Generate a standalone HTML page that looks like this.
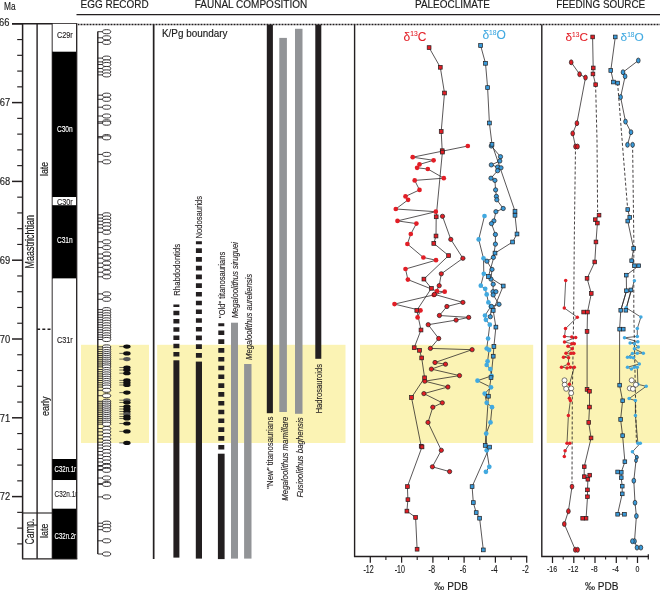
<!DOCTYPE html>
<html><head><meta charset="utf-8"><title>Figure</title>
<style>html,body{margin:0;padding:0;background:#fff;}body{width:660px;height:590px;overflow:hidden;font-family:"Liberation Sans",sans-serif;}svg{display:block;will-change:transform;}</style>
</head><body>
<svg width="660" height="590" viewBox="0 0 660 590" font-family="Liberation Sans, sans-serif"><rect x="81" y="344.8" width="68" height="98.19999999999999" fill="#fbf3b4"/>
<rect x="157.2" y="344.8" width="188.3" height="98.19999999999999" fill="#fbf3b4"/>
<rect x="360" y="344.8" width="173.20000000000005" height="98.19999999999999" fill="#fbf3b4"/>
<rect x="546.7" y="344.8" width="113.29999999999995" height="98.19999999999999" fill="#fbf3b4"/>
<line x1="76.5" y1="14.7" x2="660" y2="14.7" stroke="#231f20" stroke-width="1.25"/>
<line x1="78" y1="24.6" x2="660" y2="24.6" stroke="#231f20" stroke-width="1.5" stroke-dasharray="1 0.5"/>
<text x="114.6" y="7.5" font-size="10.3" text-anchor="middle" fill="#1a1a1a" textLength="68" lengthAdjust="spacingAndGlyphs" stroke="#1a1a1a" stroke-width="0.15" >EGG RECORD</text>
<text x="251" y="7.5" font-size="10.3" text-anchor="middle" fill="#1a1a1a" textLength="112.5" lengthAdjust="spacingAndGlyphs" stroke="#1a1a1a" stroke-width="0.15" >FAUNAL COMPOSITION</text>
<text x="452.5" y="7.5" font-size="10.3" text-anchor="middle" fill="#1a1a1a" textLength="75" lengthAdjust="spacingAndGlyphs" stroke="#1a1a1a" stroke-width="0.15" >PALEOCLIMATE</text>
<text x="600.7" y="7.5" font-size="10.3" text-anchor="middle" fill="#1a1a1a" textLength="89" lengthAdjust="spacingAndGlyphs" stroke="#1a1a1a" stroke-width="0.15" >FEEDING SOURCE</text>
<line x1="22.6" y1="23.8" x2="22.6" y2="558.8" stroke="#231f20" stroke-width="1.5"/>
<text x="4.0" y="10.4" font-size="10.4" text-anchor="start" fill="#1a1a1a" textLength="11.6" lengthAdjust="spacingAndGlyphs" stroke="#1a1a1a" stroke-width="0.15" >Ma</text>
<line x1="12" y1="23.8" x2="22.6" y2="23.8" stroke="#231f20" stroke-width="1.5"/>
<text x="9.4" y="26.2" font-size="10.4" text-anchor="end" fill="#1a1a1a" textLength="10.4" lengthAdjust="spacingAndGlyphs" stroke="#1a1a1a" stroke-width="0.15" >66</text>
<line x1="12" y1="102.6" x2="22.6" y2="102.6" stroke="#231f20" stroke-width="1.5"/>
<text x="10.2" y="106.3" font-size="10.4" text-anchor="end" fill="#1a1a1a" textLength="10.4" lengthAdjust="spacingAndGlyphs" stroke="#1a1a1a" stroke-width="0.15" >67</text>
<line x1="12" y1="181.4" x2="22.6" y2="181.4" stroke="#231f20" stroke-width="1.5"/>
<text x="10.2" y="185.1" font-size="10.4" text-anchor="end" fill="#1a1a1a" textLength="10.4" lengthAdjust="spacingAndGlyphs" stroke="#1a1a1a" stroke-width="0.15" >68</text>
<line x1="12" y1="260.2" x2="22.6" y2="260.2" stroke="#231f20" stroke-width="1.5"/>
<text x="10.2" y="263.9" font-size="10.4" text-anchor="end" fill="#1a1a1a" textLength="10.4" lengthAdjust="spacingAndGlyphs" stroke="#1a1a1a" stroke-width="0.15" >69</text>
<line x1="12" y1="339.0" x2="22.6" y2="339.0" stroke="#231f20" stroke-width="1.5"/>
<text x="10.2" y="342.7" font-size="10.4" text-anchor="end" fill="#1a1a1a" textLength="10.4" lengthAdjust="spacingAndGlyphs" stroke="#1a1a1a" stroke-width="0.15" >70</text>
<line x1="12" y1="417.8" x2="22.6" y2="417.8" stroke="#231f20" stroke-width="1.5"/>
<text x="10.2" y="421.5" font-size="10.4" text-anchor="end" fill="#1a1a1a" textLength="10.4" lengthAdjust="spacingAndGlyphs" stroke="#1a1a1a" stroke-width="0.15" >71</text>
<line x1="12" y1="496.59999999999997" x2="22.6" y2="496.59999999999997" stroke="#231f20" stroke-width="1.5"/>
<text x="10.2" y="500.29999999999995" font-size="10.4" text-anchor="end" fill="#1a1a1a" textLength="10.4" lengthAdjust="spacingAndGlyphs" stroke="#1a1a1a" stroke-width="0.15" >72</text>
<line x1="17.2" y1="39.56" x2="22.6" y2="39.56" stroke="#231f20" stroke-width="1.15"/>
<line x1="17.2" y1="55.32" x2="22.6" y2="55.32" stroke="#231f20" stroke-width="1.15"/>
<line x1="17.2" y1="71.08" x2="22.6" y2="71.08" stroke="#231f20" stroke-width="1.15"/>
<line x1="17.2" y1="86.84" x2="22.6" y2="86.84" stroke="#231f20" stroke-width="1.15"/>
<line x1="17.2" y1="118.36" x2="22.6" y2="118.36" stroke="#231f20" stroke-width="1.15"/>
<line x1="17.2" y1="134.12" x2="22.6" y2="134.12" stroke="#231f20" stroke-width="1.15"/>
<line x1="17.2" y1="149.88" x2="22.6" y2="149.88" stroke="#231f20" stroke-width="1.15"/>
<line x1="17.2" y1="165.64" x2="22.6" y2="165.64" stroke="#231f20" stroke-width="1.15"/>
<line x1="17.2" y1="197.16" x2="22.6" y2="197.16" stroke="#231f20" stroke-width="1.15"/>
<line x1="17.2" y1="212.92" x2="22.6" y2="212.92" stroke="#231f20" stroke-width="1.15"/>
<line x1="17.2" y1="228.68" x2="22.6" y2="228.68" stroke="#231f20" stroke-width="1.15"/>
<line x1="17.2" y1="244.44" x2="22.6" y2="244.44" stroke="#231f20" stroke-width="1.15"/>
<line x1="17.2" y1="275.96" x2="22.6" y2="275.96" stroke="#231f20" stroke-width="1.15"/>
<line x1="17.2" y1="291.72" x2="22.6" y2="291.72" stroke="#231f20" stroke-width="1.15"/>
<line x1="17.2" y1="307.48" x2="22.6" y2="307.48" stroke="#231f20" stroke-width="1.15"/>
<line x1="17.2" y1="323.24" x2="22.6" y2="323.24" stroke="#231f20" stroke-width="1.15"/>
<line x1="17.2" y1="354.76" x2="22.6" y2="354.76" stroke="#231f20" stroke-width="1.15"/>
<line x1="17.2" y1="370.52" x2="22.6" y2="370.52" stroke="#231f20" stroke-width="1.15"/>
<line x1="17.2" y1="386.28" x2="22.6" y2="386.28" stroke="#231f20" stroke-width="1.15"/>
<line x1="17.2" y1="402.04" x2="22.6" y2="402.04" stroke="#231f20" stroke-width="1.15"/>
<line x1="17.2" y1="433.56" x2="22.6" y2="433.56" stroke="#231f20" stroke-width="1.15"/>
<line x1="17.2" y1="449.32" x2="22.6" y2="449.32" stroke="#231f20" stroke-width="1.15"/>
<line x1="17.2" y1="465.08" x2="22.6" y2="465.08" stroke="#231f20" stroke-width="1.15"/>
<line x1="17.2" y1="480.84" x2="22.6" y2="480.84" stroke="#231f20" stroke-width="1.15"/>
<line x1="17.2" y1="512.36" x2="22.6" y2="512.36" stroke="#231f20" stroke-width="1.15"/>
<line x1="17.2" y1="528.12" x2="22.6" y2="528.12" stroke="#231f20" stroke-width="1.15"/>
<line x1="17.2" y1="543.88" x2="22.6" y2="543.88" stroke="#231f20" stroke-width="1.15"/>
<line x1="37.1" y1="23.8" x2="37.1" y2="558.8" stroke="#231f20" stroke-width="1.4"/>
<line x1="52.4" y1="23.8" x2="52.4" y2="558.8" stroke="#231f20" stroke-width="1.4"/>
<line x1="12" y1="23.8" x2="77.3" y2="23.8" stroke="#231f20" stroke-width="1.4"/>
<line x1="22" y1="558.8" x2="77.3" y2="558.8" stroke="#231f20" stroke-width="1.3"/>
<line x1="22.6" y1="513" x2="52.4" y2="513" stroke="#231f20" stroke-width="1.1"/>
<line x1="37.1" y1="329.3" x2="52.4" y2="329.3" stroke="#231f20" stroke-width="1.4" stroke-dasharray="3 2.2"/>
<clipPath id="cc"><rect x="52.4" y="20" width="24.9" height="545"/></clipPath>
<g clip-path="url(#cc)">
<rect x="52.4" y="23.8" width="24.3" height="27.9" fill="#fff"/>
<rect x="52.4" y="51.7" width="24.3" height="145.4" fill="#000"/>
<rect x="52.4" y="197.1" width="24.3" height="8.1" fill="#fff"/>
<rect x="52.4" y="205.2" width="24.3" height="73.4" fill="#000"/>
<rect x="52.4" y="278.6" width="24.3" height="180.4" fill="#fff"/>
<rect x="52.4" y="459.0" width="24.3" height="21.1" fill="#000"/>
<rect x="52.4" y="480.1" width="24.3" height="28.6" fill="#fff"/>
<rect x="52.4" y="508.7" width="24.3" height="50.1" fill="#000"/>
<text x="64.8" y="38.4" font-size="9" text-anchor="middle" fill="#231f20" textLength="15.8" lengthAdjust="spacingAndGlyphs" stroke="#231f20" stroke-width="0.15" >C29r</text>
<text x="64.8" y="131.6" font-size="9" text-anchor="middle" fill="#fff" textLength="15.8" lengthAdjust="spacingAndGlyphs" stroke="#fff" stroke-width="0.15" >C30n</text>
<text x="64.8" y="204.5" font-size="9" text-anchor="middle" fill="#231f20" textLength="15.8" lengthAdjust="spacingAndGlyphs" stroke="#231f20" stroke-width="0.15" >C30r</text>
<text x="64.8" y="242.7" font-size="9" text-anchor="middle" fill="#fff" textLength="15.8" lengthAdjust="spacingAndGlyphs" stroke="#fff" stroke-width="0.15" >C31n</text>
<text x="64.8" y="342.5" font-size="9" text-anchor="middle" fill="#231f20" textLength="15.8" lengthAdjust="spacingAndGlyphs" stroke="#231f20" stroke-width="0.15" >C31r</text>
<text x="54.6" y="471.8" font-size="8.6" text-anchor="start" fill="#fff" textLength="22.8" lengthAdjust="spacingAndGlyphs" stroke="#fff" stroke-width="0.15" >C32n.1n</text>
<text x="54.6" y="497.3" font-size="8.6" text-anchor="start" fill="#231f20" textLength="22.8" lengthAdjust="spacingAndGlyphs" stroke="#231f20" stroke-width="0.15" >C32n.1r</text>
<text x="54.6" y="538.6" font-size="8.6" text-anchor="start" fill="#fff" textLength="22.8" lengthAdjust="spacingAndGlyphs" stroke="#fff" stroke-width="0.15" >C32n.2n</text>
</g>
<line x1="76.7" y1="23.8" x2="76.7" y2="558.8" stroke="#231f20" stroke-width="1.3"/>
<text x="33.6" y="241.7" font-size="12.4" text-anchor="middle" fill="#1a1a1a" textLength="53.5" lengthAdjust="spacingAndGlyphs" transform="rotate(-90 33.6 241.7)" stroke="#1a1a1a" stroke-width="0.15" >Maastrichtian</text>
<text x="47.9" y="169" font-size="10.8" text-anchor="middle" fill="#1a1a1a" textLength="14" lengthAdjust="spacingAndGlyphs" transform="rotate(-90 47.9 169)" stroke="#1a1a1a" stroke-width="0.15" >late</text>
<text x="48.6" y="406.3" font-size="10.8" text-anchor="middle" fill="#1a1a1a" textLength="19.6" lengthAdjust="spacingAndGlyphs" transform="rotate(-90 48.6 406.3)" stroke="#1a1a1a" stroke-width="0.15" >early</text>
<text x="33.7" y="531.6" font-size="12.4" text-anchor="middle" fill="#1a1a1a" textLength="25.8" lengthAdjust="spacingAndGlyphs" transform="rotate(-90 33.7 531.6)" stroke="#1a1a1a" stroke-width="0.15" >Camp.</text>
<text x="47.9" y="530.8" font-size="10.8" text-anchor="middle" fill="#1a1a1a" textLength="14.3" lengthAdjust="spacingAndGlyphs" transform="rotate(-90 47.9 530.8)" stroke="#1a1a1a" stroke-width="0.15" >late</text>
<line x1="153.6" y1="24.6" x2="153.6" y2="559" stroke="#231f20" stroke-width="1.4"/>
<line x1="97.8" y1="31.4" x2="97.8" y2="554" stroke="#231f20" stroke-width="1.4"/>
<g stroke="#231f20" stroke-width="0.9" fill="none"><path d="M97.8 31.7H102.6"/><ellipse cx="106.6" cy="31.7" rx="4.15" ry="2.05" fill="#fff"/><path d="M97.8 37.8H102.6"/><ellipse cx="106.6" cy="37.8" rx="4.15" ry="2.05" fill="#fff"/><path d="M97.8 42.4H102.6"/><ellipse cx="106.6" cy="42.4" rx="4.15" ry="2.05" fill="#fff"/><path d="M97.8 58.1H102.6"/><ellipse cx="106.6" cy="58.1" rx="4.15" ry="2.05" fill="#fff"/><path d="M97.8 61.9H102.6"/><ellipse cx="106.6" cy="61.9" rx="4.15" ry="2.05" fill="#fff"/><path d="M97.8 64.5H102.6"/><ellipse cx="106.6" cy="64.5" rx="4.15" ry="2.05" fill="#fff"/><path d="M97.8 68.5H102.6"/><ellipse cx="106.6" cy="68.5" rx="4.15" ry="2.05" fill="#fff"/><path d="M97.8 71.9H102.6"/><ellipse cx="106.6" cy="71.9" rx="4.15" ry="2.05" fill="#fff"/><path d="M97.8 74.9H102.6"/><ellipse cx="106.6" cy="74.9" rx="4.15" ry="2.05" fill="#fff"/><path d="M97.8 95.2H102.6"/><ellipse cx="106.6" cy="95.2" rx="4.15" ry="2.05" fill="#fff"/><path d="M97.8 99.3H102.6"/><ellipse cx="106.6" cy="99.3" rx="4.15" ry="2.05" fill="#fff"/><path d="M97.8 107.2H102.6"/><ellipse cx="106.6" cy="107.2" rx="4.15" ry="2.05" fill="#fff"/><path d="M97.8 116H102.6"/><ellipse cx="106.6" cy="116" rx="4.15" ry="2.05" fill="#fff"/><path d="M97.8 121.8H102.6"/><ellipse cx="106.6" cy="121.8" rx="4.15" ry="2.05" fill="#fff"/><path d="M97.8 123.2H102.6"/><ellipse cx="106.6" cy="123.2" rx="4.15" ry="2.05" fill="#fff"/><path d="M97.8 136.6H102.6"/><ellipse cx="106.6" cy="136.6" rx="4.15" ry="2.05" fill="#fff"/><path d="M97.8 137.8H102.6"/><ellipse cx="106.6" cy="137.8" rx="4.15" ry="2.05" fill="#fff"/><path d="M97.8 154.4H102.6"/><ellipse cx="106.6" cy="154.4" rx="4.15" ry="2.05" fill="#fff"/><path d="M97.8 161.8H102.6"/><ellipse cx="106.6" cy="161.8" rx="4.15" ry="2.05" fill="#fff"/><path d="M97.8 214.8H102.6"/><ellipse cx="106.6" cy="214.8" rx="4.15" ry="2.05" fill="#fff"/><path d="M97.8 218.1H102.6"/><ellipse cx="106.6" cy="218.1" rx="4.15" ry="2.05" fill="#fff"/><path d="M97.8 221.2H102.6"/><ellipse cx="106.6" cy="221.2" rx="4.15" ry="2.05" fill="#fff"/><path d="M97.8 224.7H102.6"/><ellipse cx="106.6" cy="224.7" rx="4.15" ry="2.05" fill="#fff"/><path d="M97.8 228H102.6"/><ellipse cx="106.6" cy="228" rx="4.15" ry="2.05" fill="#fff"/><path d="M97.8 232.3H102.6"/><ellipse cx="106.6" cy="232.3" rx="4.15" ry="2.05" fill="#fff"/><path d="M97.8 241.8H102.6"/><ellipse cx="106.6" cy="241.8" rx="4.15" ry="2.05" fill="#fff"/><path d="M97.8 247.6H102.6"/><ellipse cx="106.6" cy="247.6" rx="4.15" ry="2.05" fill="#fff"/><path d="M97.8 254H102.6"/><ellipse cx="106.6" cy="254" rx="4.15" ry="2.05" fill="#fff"/><path d="M97.8 258.2H102.6"/><ellipse cx="106.6" cy="258.2" rx="4.15" ry="2.05" fill="#fff"/><path d="M97.8 263.1H102.6"/><ellipse cx="106.6" cy="263.1" rx="4.15" ry="2.05" fill="#fff"/><path d="M97.8 267.4H102.6"/><ellipse cx="106.6" cy="267.4" rx="4.15" ry="2.05" fill="#fff"/><path d="M97.8 272.2H102.6"/><ellipse cx="106.6" cy="272.2" rx="4.15" ry="2.05" fill="#fff"/><path d="M97.8 276.8H102.6"/><ellipse cx="106.6" cy="276.8" rx="4.15" ry="2.05" fill="#fff"/><path d="M97.8 293.9H102.6"/><ellipse cx="106.6" cy="293.9" rx="4.15" ry="2.05" fill="#fff"/><path d="M97.8 299.3H102.6"/><ellipse cx="106.6" cy="299.3" rx="4.15" ry="2.05" fill="#fff"/><path d="M97.8 309.6H102.6"/><ellipse cx="106.6" cy="309.6" rx="4.15" ry="2.05" fill="#fff"/><path d="M97.8 312.3H102.6"/><ellipse cx="106.6" cy="312.3" rx="4.15" ry="2.05" fill="#fff"/><path d="M97.8 314.8H102.6"/><ellipse cx="106.6" cy="314.8" rx="4.15" ry="2.05" fill="#fff"/><path d="M97.8 317.3H102.6"/><ellipse cx="106.6" cy="317.3" rx="4.15" ry="2.05" fill="#fff"/><path d="M97.8 319.8H102.6"/><ellipse cx="106.6" cy="319.8" rx="4.15" ry="2.05" fill="#fff"/><path d="M97.8 322.3H102.6"/><ellipse cx="106.6" cy="322.3" rx="4.15" ry="2.05" fill="#fff"/><path d="M97.8 324.8H102.6"/><ellipse cx="106.6" cy="324.8" rx="4.15" ry="2.05" fill="#fff"/><path d="M97.8 327.3H102.6"/><ellipse cx="106.6" cy="327.3" rx="4.15" ry="2.05" fill="#fff"/><path d="M97.8 329.8H102.6"/><ellipse cx="106.6" cy="329.8" rx="4.15" ry="2.05" fill="#fff"/><path d="M97.8 332.3H102.6"/><ellipse cx="106.6" cy="332.3" rx="4.15" ry="2.05" fill="#fff"/><path d="M97.8 334.8H102.6"/><ellipse cx="106.6" cy="334.8" rx="4.15" ry="2.05" fill="#fff"/><path d="M97.8 337.2H102.6"/><ellipse cx="106.6" cy="337.2" rx="4.15" ry="2.05" fill="#fff"/><path d="M97.8 339.5H102.6"/><ellipse cx="106.6" cy="339.5" rx="4.15" ry="2.05" fill="#fff"/><path d="M97.8 346.9H102.6"/><ellipse cx="106.6" cy="346.9" rx="4.15" ry="2.05" fill="#fff"/><path d="M97.8 349.3H102.6"/><ellipse cx="106.6" cy="349.3" rx="4.15" ry="2.05" fill="#fff"/><path d="M97.8 351.6H102.6"/><ellipse cx="106.6" cy="351.6" rx="4.15" ry="2.05" fill="#fff"/><path d="M97.8 353.6H102.6"/><ellipse cx="106.6" cy="353.6" rx="4.15" ry="2.05" fill="#fff"/><path d="M97.8 355.5H102.6"/><ellipse cx="106.6" cy="355.5" rx="4.15" ry="2.05" fill="#fff"/><path d="M97.8 357.4H102.6"/><ellipse cx="106.6" cy="357.4" rx="4.15" ry="2.05" fill="#fff"/><path d="M97.8 359.3H102.6"/><ellipse cx="106.6" cy="359.3" rx="4.15" ry="2.05" fill="#fff"/><path d="M97.8 361.2H102.6"/><ellipse cx="106.6" cy="361.2" rx="4.15" ry="2.05" fill="#fff"/><path d="M97.8 363.1H102.6"/><ellipse cx="106.6" cy="363.1" rx="4.15" ry="2.05" fill="#fff"/><path d="M97.8 365H102.6"/><ellipse cx="106.6" cy="365" rx="4.15" ry="2.05" fill="#fff"/><path d="M97.8 366.9H102.6"/><ellipse cx="106.6" cy="366.9" rx="4.15" ry="2.05" fill="#fff"/><path d="M97.8 369.5H102.6"/><ellipse cx="106.6" cy="369.5" rx="4.15" ry="2.05" fill="#fff"/><path d="M97.8 371.7H102.6"/><ellipse cx="106.6" cy="371.7" rx="4.15" ry="2.05" fill="#fff"/><path d="M97.8 373.9H102.6"/><ellipse cx="106.6" cy="373.9" rx="4.15" ry="2.05" fill="#fff"/><path d="M97.8 376.1H102.6"/><ellipse cx="106.6" cy="376.1" rx="4.15" ry="2.05" fill="#fff"/><path d="M97.8 378.3H102.6"/><ellipse cx="106.6" cy="378.3" rx="4.15" ry="2.05" fill="#fff"/><path d="M97.8 380.5H102.6"/><ellipse cx="106.6" cy="380.5" rx="4.15" ry="2.05" fill="#fff"/><path d="M97.8 382.7H102.6"/><ellipse cx="106.6" cy="382.7" rx="4.15" ry="2.05" fill="#fff"/><path d="M97.8 384.9H102.6"/><ellipse cx="106.6" cy="384.9" rx="4.15" ry="2.05" fill="#fff"/><path d="M97.8 387.1H102.6"/><ellipse cx="106.6" cy="387.1" rx="4.15" ry="2.05" fill="#fff"/><path d="M97.8 390.3H102.6"/><ellipse cx="106.6" cy="390.3" rx="4.15" ry="2.05" fill="#fff"/><path d="M97.8 395.7H102.6"/><ellipse cx="106.6" cy="395.7" rx="4.15" ry="2.05" fill="#fff"/><path d="M97.8 401.3H102.6"/><ellipse cx="106.6" cy="401.3" rx="4.15" ry="2.05" fill="#fff"/><path d="M97.8 403.2H102.6"/><ellipse cx="106.6" cy="403.2" rx="4.15" ry="2.05" fill="#fff"/><path d="M97.8 405.1H102.6"/><ellipse cx="106.6" cy="405.1" rx="4.15" ry="2.05" fill="#fff"/><path d="M97.8 407H102.6"/><ellipse cx="106.6" cy="407" rx="4.15" ry="2.05" fill="#fff"/><path d="M97.8 408.9H102.6"/><ellipse cx="106.6" cy="408.9" rx="4.15" ry="2.05" fill="#fff"/><path d="M97.8 410.8H102.6"/><ellipse cx="106.6" cy="410.8" rx="4.15" ry="2.05" fill="#fff"/><path d="M97.8 412.7H102.6"/><ellipse cx="106.6" cy="412.7" rx="4.15" ry="2.05" fill="#fff"/><path d="M97.8 414.6H102.6"/><ellipse cx="106.6" cy="414.6" rx="4.15" ry="2.05" fill="#fff"/><path d="M97.8 416.5H102.6"/><ellipse cx="106.6" cy="416.5" rx="4.15" ry="2.05" fill="#fff"/><path d="M97.8 418.4H102.6"/><ellipse cx="106.6" cy="418.4" rx="4.15" ry="2.05" fill="#fff"/><path d="M97.8 420.3H102.6"/><ellipse cx="106.6" cy="420.3" rx="4.15" ry="2.05" fill="#fff"/><path d="M97.8 422.2H102.6"/><ellipse cx="106.6" cy="422.2" rx="4.15" ry="2.05" fill="#fff"/><path d="M97.8 424.2H102.6"/><ellipse cx="106.6" cy="424.2" rx="4.15" ry="2.05" fill="#fff"/><path d="M97.8 428.5H102.6"/><ellipse cx="106.6" cy="428.5" rx="4.15" ry="2.05" fill="#fff"/><path d="M97.8 431.8H102.6"/><ellipse cx="106.6" cy="431.8" rx="4.15" ry="2.05" fill="#fff"/><path d="M97.8 435.2H102.6"/><ellipse cx="106.6" cy="435.2" rx="4.15" ry="2.05" fill="#fff"/><path d="M97.8 438.8H102.6"/><ellipse cx="106.6" cy="438.8" rx="4.15" ry="2.05" fill="#fff"/><path d="M97.8 442.2H102.6"/><ellipse cx="106.6" cy="442.2" rx="4.15" ry="2.05" fill="#fff"/><path d="M97.8 445H102.6"/><ellipse cx="106.6" cy="445" rx="4.15" ry="2.05" fill="#fff"/><path d="M97.8 448H102.6"/><ellipse cx="106.6" cy="448" rx="4.15" ry="2.05" fill="#fff"/><path d="M97.8 451.5H102.6"/><ellipse cx="106.6" cy="451.5" rx="4.15" ry="2.05" fill="#fff"/><path d="M97.8 455H102.6"/><ellipse cx="106.6" cy="455" rx="4.15" ry="2.05" fill="#fff"/><path d="M97.8 458.5H102.6"/><ellipse cx="106.6" cy="458.5" rx="4.15" ry="2.05" fill="#fff"/><path d="M97.8 462H102.6"/><ellipse cx="106.6" cy="462" rx="4.15" ry="2.05" fill="#fff"/><path d="M97.8 465.5H102.6"/><ellipse cx="106.6" cy="465.5" rx="4.15" ry="2.05" fill="#fff"/><path d="M97.8 466.3H102.6"/><ellipse cx="106.6" cy="466.3" rx="4.15" ry="2.05" fill="#fff"/><path d="M97.8 469.5H102.6"/><ellipse cx="106.6" cy="469.5" rx="4.15" ry="2.05" fill="#fff"/><path d="M97.8 470.3H102.6"/><ellipse cx="106.6" cy="470.3" rx="4.15" ry="2.05" fill="#fff"/><path d="M97.8 478H102.6"/><ellipse cx="106.6" cy="478" rx="4.15" ry="2.05" fill="#fff"/><path d="M97.8 483.6H102.6"/><ellipse cx="106.6" cy="483.6" rx="4.15" ry="2.05" fill="#fff"/><path d="M97.8 484.4H102.6"/><ellipse cx="106.6" cy="484.4" rx="4.15" ry="2.05" fill="#fff"/><path d="M97.8 496.9H102.6"/><ellipse cx="106.6" cy="496.9" rx="4.15" ry="2.05" fill="#fff"/><path d="M97.8 523.2H102.6"/><ellipse cx="106.6" cy="523.2" rx="4.15" ry="2.05" fill="#fff"/><path d="M97.8 526.3H102.6"/><ellipse cx="106.6" cy="526.3" rx="4.15" ry="2.05" fill="#fff"/><path d="M97.8 529.7H102.6"/><ellipse cx="106.6" cy="529.7" rx="4.15" ry="2.05" fill="#fff"/><path d="M97.8 540.8H102.6"/><ellipse cx="106.6" cy="540.8" rx="4.15" ry="2.05" fill="#fff"/><path d="M97.8 554H102.6"/><ellipse cx="106.6" cy="554" rx="4.15" ry="2.05" fill="#fff"/></g>
<path d="M119.3 346.6H124" stroke="#111" stroke-width="0.6"/><ellipse cx="126.9" cy="346.6" rx="3.7" ry="2.05" fill="#111"/><path d="M119.3 353.4H124" stroke="#111" stroke-width="0.6"/><ellipse cx="126.9" cy="353.4" rx="3.7" ry="2.05" fill="#111"/><path d="M119.3 359.1H124" stroke="#111" stroke-width="0.6"/><ellipse cx="126.9" cy="359.1" rx="3.7" ry="2.05" fill="#555"/><path d="M119.3 367.5H124" stroke="#111" stroke-width="0.6"/><ellipse cx="126.9" cy="367.5" rx="3.7" ry="2.05" fill="#111"/><path d="M119.3 370H124" stroke="#111" stroke-width="0.6"/><ellipse cx="126.9" cy="370" rx="3.7" ry="2.05" fill="#111"/><path d="M119.3 373.2H124" stroke="#111" stroke-width="0.6"/><ellipse cx="126.9" cy="373.2" rx="3.7" ry="2.05" fill="#111"/><path d="M119.3 380.4H124" stroke="#111" stroke-width="0.6"/><ellipse cx="126.9" cy="380.4" rx="3.7" ry="2.05" fill="#111"/><path d="M119.3 382.7H124" stroke="#111" stroke-width="0.6"/><ellipse cx="126.9" cy="382.7" rx="3.7" ry="2.05" fill="#111"/><path d="M119.3 385H124" stroke="#111" stroke-width="0.6"/><ellipse cx="126.9" cy="385" rx="3.7" ry="2.05" fill="#111"/><path d="M119.3 392.6H124" stroke="#111" stroke-width="0.6"/><ellipse cx="126.9" cy="392.6" rx="3.7" ry="2.05" fill="#111"/><path d="M119.3 400.2H124" stroke="#111" stroke-width="0.6"/><ellipse cx="126.9" cy="400.2" rx="3.7" ry="2.05" fill="#555"/><path d="M119.3 402.5H124" stroke="#111" stroke-width="0.6"/><ellipse cx="126.9" cy="402.5" rx="3.7" ry="2.05" fill="#111"/><path d="M119.3 406.5H124" stroke="#111" stroke-width="0.6"/><ellipse cx="126.9" cy="406.5" rx="3.7" ry="2.05" fill="#111"/><path d="M119.3 409H124" stroke="#111" stroke-width="0.6"/><ellipse cx="126.9" cy="409" rx="3.7" ry="2.05" fill="#111"/><path d="M119.3 411.5H124" stroke="#111" stroke-width="0.6"/><ellipse cx="126.9" cy="411.5" rx="3.7" ry="2.05" fill="#111"/><path d="M119.3 414H124" stroke="#111" stroke-width="0.6"/><ellipse cx="126.9" cy="414" rx="3.7" ry="2.05" fill="#555"/><path d="M119.3 416.5H124" stroke="#111" stroke-width="0.6"/><ellipse cx="126.9" cy="416.5" rx="3.7" ry="2.05" fill="#111"/><path d="M119.3 418.5H124" stroke="#111" stroke-width="0.6"/><ellipse cx="126.9" cy="418.5" rx="3.7" ry="2.05" fill="#111"/><path d="M119.3 423.5H124" stroke="#111" stroke-width="0.6"/><ellipse cx="126.9" cy="423.5" rx="3.7" ry="2.05" fill="#111"/><path d="M119.3 431.4H124" stroke="#111" stroke-width="0.6"/><ellipse cx="126.9" cy="431.4" rx="3.7" ry="2.05" fill="#111"/><path d="M119.3 442.9H124" stroke="#111" stroke-width="0.6"/><ellipse cx="126.9" cy="442.9" rx="3.7" ry="2.05" fill="#111"/>
<line x1="153.6" y1="24.6" x2="153.6" y2="559" stroke="#231f20" stroke-width="1.4"/>
<text x="162" y="36.5" font-size="10.2" text-anchor="start" fill="#1a1a1a" textLength="65.5" lengthAdjust="spacingAndGlyphs" stroke="#1a1a1a" stroke-width="0.15" >K/Pg boundary</text>
<rect x="173.4" y="360.3" width="6.0" height="197.3" fill="#231f20"/>
<line x1="176.4" y1="356.6" x2="176.4" y2="304.5" stroke="#231f20" stroke-width="6.0" stroke-dasharray="4.6 3.66"/>
<rect x="195.8" y="361.6" width="6.2" height="197.0" fill="#231f20"/>
<line x1="198.9" y1="357.8" x2="198.9" y2="241.2" stroke="#231f20" stroke-width="6.0" stroke-dasharray="4.7 4.04"/>
<rect x="217.9" y="453.7" width="6.7" height="105.4" fill="#231f20"/>
<line x1="221.3" y1="449.5" x2="221.3" y2="323.3" stroke="#231f20" stroke-width="6.0" stroke-dasharray="4.6 4.2"/>
<rect x="231" y="322.7" width="7.0" height="235.9" fill="#929497"/>
<rect x="244.1" y="364" width="7.4" height="194.6" fill="#929497"/>
<rect x="266.8" y="24.6" width="6.1" height="388.6" fill="#231f20"/>
<rect x="279.3" y="37.9" width="7.6" height="374.1" fill="#929497"/>
<rect x="295" y="28.8" width="7.5" height="385.0" fill="#929497"/>
<rect x="315.3" y="24.6" width="6.0" height="334.2" fill="#231f20"/>
<text x="0" y="0" font-size="8.7" fill="#231f20" stroke="#231f20" stroke-width="0.12" textLength="51.9" lengthAdjust="spacingAndGlyphs" transform="translate(180.0 295.7) rotate(-90)">Rhabdodontids</text>
<text x="0" y="0" font-size="8.7" fill="#231f20" stroke="#231f20" stroke-width="0.12" textLength="42.5" lengthAdjust="spacingAndGlyphs" transform="translate(202.3 238.4) rotate(-90)">Nodosaurids</text>
<text x="0" y="0" font-size="8.7" fill="#231f20" stroke="#231f20" stroke-width="0.12" textLength="66.1" lengthAdjust="spacingAndGlyphs" transform="translate(224.9 317.90000000000003) rotate(-90)">&quot;Old&quot; titanosaurians</text>
<text x="0" y="0" font-size="8.7" fill="#231f20" stroke="#231f20" stroke-width="0.12" textLength="76.2" lengthAdjust="spacingAndGlyphs" transform="translate(238.1 318.3) rotate(-90)" font-style="italic">Megaloolithus siruguei</text>
<text x="0" y="0" font-size="8.7" fill="#231f20" stroke="#231f20" stroke-width="0.12" textLength="86.1" lengthAdjust="spacingAndGlyphs" transform="translate(251.6 360.0) rotate(-90)" font-style="italic">Megaloolithus aureliensis</text>
<text x="0" y="0" font-size="8.7" fill="#231f20" stroke="#231f20" stroke-width="0.12" textLength="72.0" lengthAdjust="spacingAndGlyphs" transform="translate(273.4 488.7) rotate(-90)">&quot;New&quot; titanosaurians</text>
<text x="0" y="0" font-size="8.7" fill="#231f20" stroke="#231f20" stroke-width="0.12" textLength="84.1" lengthAdjust="spacingAndGlyphs" transform="translate(288.0 500.7) rotate(-90)" font-style="italic">Megaloolithus mamillare</text>
<text x="0" y="0" font-size="8.7" fill="#231f20" stroke="#231f20" stroke-width="0.12" textLength="80.2" lengthAdjust="spacingAndGlyphs" transform="translate(303.2 497.5) rotate(-90)" font-style="italic">Fusioolithus baghensis</text>
<text x="0" y="0" font-size="8.7" fill="#231f20" stroke="#231f20" stroke-width="0.12" textLength="49.7" lengthAdjust="spacingAndGlyphs" transform="translate(321.9 413.6) rotate(-90)">Hadrosauroids</text>
<path d="M354.6 24.6V556.5H527.3" stroke="#231f20" stroke-width="1.4" fill="none"/>
<line x1="370.3" y1="556.5" x2="370.3" y2="562.7" stroke="#231f20" stroke-width="1.25"/>
<line x1="385.9" y1="556.5" x2="385.9" y2="559.9" stroke="#231f20" stroke-width="1.1"/>
<line x1="401.6" y1="556.5" x2="401.6" y2="562.7" stroke="#231f20" stroke-width="1.25"/>
<line x1="417.2" y1="556.5" x2="417.2" y2="559.9" stroke="#231f20" stroke-width="1.1"/>
<line x1="432.9" y1="556.5" x2="432.9" y2="562.7" stroke="#231f20" stroke-width="1.25"/>
<line x1="448.5" y1="556.5" x2="448.5" y2="559.9" stroke="#231f20" stroke-width="1.1"/>
<line x1="464.1" y1="556.5" x2="464.1" y2="562.7" stroke="#231f20" stroke-width="1.25"/>
<line x1="479.8" y1="556.5" x2="479.8" y2="559.9" stroke="#231f20" stroke-width="1.1"/>
<line x1="495.4" y1="556.5" x2="495.4" y2="562.7" stroke="#231f20" stroke-width="1.25"/>
<line x1="511.1" y1="556.5" x2="511.1" y2="559.9" stroke="#231f20" stroke-width="1.1"/>
<line x1="526.7" y1="556.5" x2="526.7" y2="562.7" stroke="#231f20" stroke-width="1.25"/>
<text x="368.5" y="572.5" font-size="10" text-anchor="middle" fill="#1a1a1a" textLength="10.2" lengthAdjust="spacingAndGlyphs" stroke="#1a1a1a" stroke-width="0.15" >-12</text>
<text x="399.8" y="572.5" font-size="10" text-anchor="middle" fill="#1a1a1a" textLength="10.2" lengthAdjust="spacingAndGlyphs" stroke="#1a1a1a" stroke-width="0.15" >-10</text>
<text x="431.8" y="572.5" font-size="10" text-anchor="middle" fill="#1a1a1a" textLength="6.5" lengthAdjust="spacingAndGlyphs" stroke="#1a1a1a" stroke-width="0.15" >-8</text>
<text x="463.0" y="572.5" font-size="10" text-anchor="middle" fill="#1a1a1a" textLength="6.5" lengthAdjust="spacingAndGlyphs" stroke="#1a1a1a" stroke-width="0.15" >-6</text>
<text x="494.3" y="572.5" font-size="10" text-anchor="middle" fill="#1a1a1a" textLength="6.5" lengthAdjust="spacingAndGlyphs" stroke="#1a1a1a" stroke-width="0.15" >-4</text>
<text x="525.6" y="572.5" font-size="10" text-anchor="middle" fill="#1a1a1a" textLength="6.5" lengthAdjust="spacingAndGlyphs" stroke="#1a1a1a" stroke-width="0.15" >-2</text>
<text x="451.1" y="590.2" font-size="11.2" text-anchor="middle" fill="#1a1a1a" textLength="33.6" lengthAdjust="spacingAndGlyphs" stroke="#1a1a1a" stroke-width="0.15" >‰ PDB</text>
<path d="M467.8 146 L412.7 157.2 L433.6 160.3 L419.5 164.4 L417.1 167.8 L427.8 169 L443.8 178.2 L414.7 180.4 L419.5 189.9 L405.5 196.4 L408.1 199.8 L395.8 209 L435.8 211.7 L397.5 220.9 L416.4 223.6 L410.8 234 L407.4 244 L423.4 257.5 L436 260.2 L405.5 269 L407.9 279.6 L437 291.2 L444.7 291.7 L433.8 294.9 L394.5 304.1 L420.5 310.4 L417.6 317.4" stroke="#231f20" stroke-width="0.75" fill="none"/>
<path d="M491.3 146 L500.5 156.7 L499.8 161 L491.3 164.9 L497.6 167.1 L501 167.8 L497.6 170.7 L491 178.2 L494.9 180.4 L495.6 189.9 L496.4 196.4 L496.8 199.8 L503.2 208.5 L495.9 211.7 L493.9 220.9 L491.5 223.6 L495.4 234.5 L495.4 244.1 L493.4 257.4 L486.9 261.2 L492 269.4 L491 279.1 L493.2 284.2 L493 291.7 L495.9 291.7 L493.2 294.9 L499 304.3 L491.5 306.5 L490.3 316.7" stroke="#231f20" stroke-width="0.75" fill="none"/>
<path d="M442.5 216.3 L450.8 239.4 L462.9 258.3 L441.3 273.8 L439.2 285.7 L434.5 294.4 L462.9 302.4 L446.9 306.5 L439.4 315.5 L468.7 317.4 L456.1 320.1 L428.2 324.7 L438.7 338.5 L430.4 348.4 L472.1 349.7 L435 362.5 L445.5 364.2 L431.4 369.1 L459.5 375.6 L424.8 381.2 L447.9 387 L423.9 393.6 L442.3 402.8 L432.8 407.2 L428 422.4 L441.3 450.3 L432.4 466.8 L449.6 471.6" stroke="#231f20" stroke-width="0.75" fill="none"/>
<path d="M484.5 216 L478.7 239.4 L483.5 258.3 L483.8 273.8 L480.8 285.7 L485.2 288.8 L486.7 294.4 L488.4 302.4 L490.8 306.5 L485 315.5 L485.9 319.8 L489.8 324.7 L488.1 338.5 L486.7 348.5 L489.1 349.9 L487.6 361.3 L486.7 365 L490.3 369.1 L491.5 375.9 L477.5 380.7 L491 387.3 L484.7 393.6 L486.7 402.8 L492 407.2 L490.5 422.4 L486.2 433.6 L486.7 450.3 L489.3 466.8 L485.9 471.8" stroke="#231f20" stroke-width="0.75" fill="none"/>
<path d="M429.1 47.6 L440.3 67.3 L444.5 93 L441.2 131.5 L442.2 150.7 L442.4 152.1 L436.2 216.8 L436 236 L433.8 243.4 L448.6 255.6 L423.9 279.1 L431.4 288.3 L416.8 310.4 L421 330 L414.2 347.7 L419.5 350.3 L421.7 357.9 L424.6 377.8 L411.5 397.5 L421.2 446.2 L422 446.9 L407.4 486.6 L407.9 499.7 L406.9 511.1 L415.6 517.4 L417.1 549.2" stroke="#231f20" stroke-width="0.75" fill="none"/>
<path d="M480.6 45.5 L485.5 63.3 L487.6 87.6 L489.4 123 L492 144.3 L515 211.2 L515 215.3 L517 234 L512.6 242 L495 253.1 L488.4 276.5 L503.2 286 L493.2 310.4 L495.9 327.1 L493.9 346.5 L493.2 356.2 L491 377.6 L488.4 396.2 L485.2 445.4 L489.6 447.1 L472.1 486.6 L473.3 502.6 L476.2 512.6 L479.6 518.2 L483.3 549.9" stroke="#231f20" stroke-width="0.75" fill="none"/>
<g fill="#e21e26"><circle cx="467.8" cy="146" r="2.35"/><circle cx="412.7" cy="157.2" r="2.35"/><circle cx="433.6" cy="160.3" r="2.35"/><circle cx="419.5" cy="164.4" r="2.35"/><circle cx="417.1" cy="167.8" r="2.35"/><circle cx="427.8" cy="169" r="2.35"/><circle cx="443.8" cy="178.2" r="2.35"/><circle cx="414.7" cy="180.4" r="2.35"/><circle cx="419.5" cy="189.9" r="2.35"/><circle cx="405.5" cy="196.4" r="2.35"/><circle cx="408.1" cy="199.8" r="2.35"/><circle cx="395.8" cy="209" r="2.35"/><circle cx="435.8" cy="211.7" r="2.35"/><circle cx="397.5" cy="220.9" r="2.35"/><circle cx="416.4" cy="223.6" r="2.35"/><circle cx="410.8" cy="234" r="2.35"/><circle cx="407.4" cy="244" r="2.35"/><circle cx="423.4" cy="257.5" r="2.35"/><circle cx="436" cy="260.2" r="2.35"/><circle cx="405.5" cy="269" r="2.35"/><circle cx="407.9" cy="279.6" r="2.35"/><circle cx="437" cy="291.2" r="2.35"/><circle cx="444.7" cy="291.7" r="2.35"/><circle cx="433.8" cy="294.9" r="2.35"/><circle cx="394.5" cy="304.1" r="2.35"/><circle cx="420.5" cy="310.4" r="2.35"/><circle cx="417.6" cy="317.4" r="2.35"/></g>
<g fill="#41a9e0"><circle cx="484.5" cy="216" r="2.35"/><circle cx="478.7" cy="239.4" r="2.35"/><circle cx="483.5" cy="258.3" r="2.35"/><circle cx="483.8" cy="273.8" r="2.35"/><circle cx="480.8" cy="285.7" r="2.35"/><circle cx="485.2" cy="288.8" r="2.35"/><circle cx="486.7" cy="294.4" r="2.35"/><circle cx="488.4" cy="302.4" r="2.35"/><circle cx="490.8" cy="306.5" r="2.35"/><circle cx="485" cy="315.5" r="2.35"/><circle cx="485.9" cy="319.8" r="2.35"/><circle cx="489.8" cy="324.7" r="2.35"/><circle cx="488.1" cy="338.5" r="2.35"/><circle cx="486.7" cy="348.5" r="2.35"/><circle cx="489.1" cy="349.9" r="2.35"/><circle cx="487.6" cy="361.3" r="2.35"/><circle cx="486.7" cy="365" r="2.35"/><circle cx="490.3" cy="369.1" r="2.35"/><circle cx="491.5" cy="375.9" r="2.35"/><circle cx="477.5" cy="380.7" r="2.35"/><circle cx="491" cy="387.3" r="2.35"/><circle cx="484.7" cy="393.6" r="2.35"/><circle cx="486.7" cy="402.8" r="2.35"/><circle cx="492" cy="407.2" r="2.35"/><circle cx="490.5" cy="422.4" r="2.35"/><circle cx="486.2" cy="433.6" r="2.35"/><circle cx="486.7" cy="450.3" r="2.35"/><circle cx="489.3" cy="466.8" r="2.35"/><circle cx="485.9" cy="471.8" r="2.35"/></g>
<g fill="#e21e26" stroke="#231f20" stroke-width="0.7"><circle cx="442.5" cy="216.3" r="2.15"/><circle cx="450.8" cy="239.4" r="2.15"/><circle cx="462.9" cy="258.3" r="2.15"/><circle cx="441.3" cy="273.8" r="2.15"/><circle cx="439.2" cy="285.7" r="2.15"/><circle cx="434.5" cy="294.4" r="2.15"/><circle cx="462.9" cy="302.4" r="2.15"/><circle cx="446.9" cy="306.5" r="2.15"/><circle cx="439.4" cy="315.5" r="2.15"/><circle cx="468.7" cy="317.4" r="2.15"/><circle cx="456.1" cy="320.1" r="2.15"/><circle cx="428.2" cy="324.7" r="2.15"/><circle cx="438.7" cy="338.5" r="2.15"/><circle cx="430.4" cy="348.4" r="2.15"/><circle cx="472.1" cy="349.7" r="2.15"/><circle cx="435" cy="362.5" r="2.15"/><circle cx="445.5" cy="364.2" r="2.15"/><circle cx="431.4" cy="369.1" r="2.15"/><circle cx="459.5" cy="375.6" r="2.15"/><circle cx="424.8" cy="381.2" r="2.15"/><circle cx="447.9" cy="387" r="2.15"/><circle cx="423.9" cy="393.6" r="2.15"/><circle cx="442.3" cy="402.8" r="2.15"/><circle cx="432.8" cy="407.2" r="2.15"/><circle cx="428" cy="422.4" r="2.15"/><circle cx="441.3" cy="450.3" r="2.15"/><circle cx="432.4" cy="466.8" r="2.15"/><circle cx="449.6" cy="471.6" r="2.15"/></g>
<g fill="#3a9ad9" stroke="#231f20" stroke-width="0.7"><circle cx="491.3" cy="146" r="2.15"/><circle cx="500.5" cy="156.7" r="2.15"/><circle cx="499.8" cy="161" r="2.15"/><circle cx="491.3" cy="164.9" r="2.15"/><circle cx="497.6" cy="167.1" r="2.15"/><circle cx="501" cy="167.8" r="2.15"/><circle cx="497.6" cy="170.7" r="2.15"/><circle cx="491" cy="178.2" r="2.15"/><circle cx="494.9" cy="180.4" r="2.15"/><circle cx="495.6" cy="189.9" r="2.15"/><circle cx="496.4" cy="196.4" r="2.15"/><circle cx="496.8" cy="199.8" r="2.15"/><circle cx="503.2" cy="208.5" r="2.15"/><circle cx="495.9" cy="211.7" r="2.15"/><circle cx="493.9" cy="220.9" r="2.15"/><circle cx="491.5" cy="223.6" r="2.15"/><circle cx="495.4" cy="234.5" r="2.15"/><circle cx="495.4" cy="244.1" r="2.15"/><circle cx="493.4" cy="257.4" r="2.15"/><circle cx="486.9" cy="261.2" r="2.15"/><circle cx="492" cy="269.4" r="2.15"/><circle cx="491" cy="279.1" r="2.15"/><circle cx="493.2" cy="284.2" r="2.15"/><circle cx="493" cy="291.7" r="2.15"/><circle cx="495.9" cy="291.7" r="2.15"/><circle cx="493.2" cy="294.9" r="2.15"/><circle cx="499" cy="304.3" r="2.15"/><circle cx="491.5" cy="306.5" r="2.15"/><circle cx="490.3" cy="316.7" r="2.15"/></g>
<g fill="#e21e26" stroke="#231f20" stroke-width="0.7"><rect x="427.2" y="45.7" width="3.8" height="3.8"/><rect x="438.4" y="65.4" width="3.8" height="3.8"/><rect x="442.6" y="91.1" width="3.8" height="3.8"/><rect x="439.3" y="129.6" width="3.8" height="3.8"/><rect x="440.3" y="148.8" width="3.8" height="3.8"/><rect x="440.5" y="150.2" width="3.8" height="3.8"/><rect x="434.3" y="214.9" width="3.8" height="3.8"/><rect x="434.1" y="234.1" width="3.8" height="3.8"/><rect x="431.9" y="241.5" width="3.8" height="3.8"/><rect x="446.7" y="253.7" width="3.8" height="3.8"/><rect x="422.0" y="277.2" width="3.8" height="3.8"/><rect x="429.5" y="286.4" width="3.8" height="3.8"/><rect x="414.9" y="308.5" width="3.8" height="3.8"/><rect x="419.1" y="328.1" width="3.8" height="3.8"/><rect x="412.3" y="345.8" width="3.8" height="3.8"/><rect x="417.6" y="348.4" width="3.8" height="3.8"/><rect x="419.8" y="356.0" width="3.8" height="3.8"/><rect x="422.7" y="375.9" width="3.8" height="3.8"/><rect x="409.6" y="395.6" width="3.8" height="3.8"/><rect x="419.3" y="444.3" width="3.8" height="3.8"/><rect x="420.1" y="445.0" width="3.8" height="3.8"/><rect x="405.5" y="484.7" width="3.8" height="3.8"/><rect x="406.0" y="497.8" width="3.8" height="3.8"/><rect x="405.0" y="509.2" width="3.8" height="3.8"/><rect x="413.7" y="515.5" width="3.8" height="3.8"/><rect x="415.2" y="547.3" width="3.8" height="3.8"/></g>
<g fill="#3a9ad9" stroke="#231f20" stroke-width="0.7"><rect x="478.7" y="43.6" width="3.8" height="3.8"/><rect x="483.6" y="61.4" width="3.8" height="3.8"/><rect x="485.7" y="85.7" width="3.8" height="3.8"/><rect x="487.5" y="121.1" width="3.8" height="3.8"/><rect x="490.1" y="142.4" width="3.8" height="3.8"/><rect x="513.1" y="209.3" width="3.8" height="3.8"/><rect x="513.1" y="213.4" width="3.8" height="3.8"/><rect x="515.1" y="232.1" width="3.8" height="3.8"/><rect x="510.7" y="240.1" width="3.8" height="3.8"/><rect x="493.1" y="251.2" width="3.8" height="3.8"/><rect x="486.5" y="274.6" width="3.8" height="3.8"/><rect x="501.3" y="284.1" width="3.8" height="3.8"/><rect x="491.3" y="308.5" width="3.8" height="3.8"/><rect x="494.0" y="325.2" width="3.8" height="3.8"/><rect x="492.0" y="344.6" width="3.8" height="3.8"/><rect x="491.3" y="354.3" width="3.8" height="3.8"/><rect x="489.1" y="375.7" width="3.8" height="3.8"/><rect x="486.5" y="394.3" width="3.8" height="3.8"/><rect x="483.3" y="443.5" width="3.8" height="3.8"/><rect x="487.7" y="445.2" width="3.8" height="3.8"/><rect x="470.2" y="484.7" width="3.8" height="3.8"/><rect x="471.4" y="500.7" width="3.8" height="3.8"/><rect x="474.3" y="510.7" width="3.8" height="3.8"/><rect x="477.7" y="516.3" width="3.8" height="3.8"/><rect x="481.4" y="548.0" width="3.8" height="3.8"/></g>
<text x="403.6" y="40.5" font-size="12" fill="#e21e26" stroke="#e21e26" stroke-width="0.08" font-family="Liberation Sans, sans-serif">δ<tspan font-size="6.720000000000001" dy="-4.32">13</tspan><tspan dy="4.32">C</tspan></text>
<text x="482.4" y="39" font-size="12" fill="#41a9e0" stroke="#41a9e0" stroke-width="0.08" font-family="Liberation Sans, sans-serif">δ<tspan font-size="6.720000000000001" dy="-4.32">18</tspan><tspan dy="4.32">O</tspan></text>
<path d="M541.8 24.6V556.5H648.9" stroke="#231f20" stroke-width="1.4" fill="none"/>
<line x1="552.5" y1="556.5" x2="552.5" y2="563.0" stroke="#231f20" stroke-width="1.25"/>
<line x1="563.2" y1="556.5" x2="563.2" y2="559.6" stroke="#231f20" stroke-width="1.1"/>
<line x1="573.8" y1="556.5" x2="573.8" y2="563.0" stroke="#231f20" stroke-width="1.25"/>
<line x1="584.4" y1="556.5" x2="584.4" y2="559.6" stroke="#231f20" stroke-width="1.1"/>
<line x1="595.0" y1="556.5" x2="595.0" y2="563.0" stroke="#231f20" stroke-width="1.25"/>
<line x1="605.6" y1="556.5" x2="605.6" y2="559.6" stroke="#231f20" stroke-width="1.1"/>
<line x1="616.3" y1="556.5" x2="616.3" y2="563.0" stroke="#231f20" stroke-width="1.25"/>
<line x1="626.9" y1="556.5" x2="626.9" y2="559.6" stroke="#231f20" stroke-width="1.1"/>
<line x1="637.5" y1="556.5" x2="637.5" y2="563.0" stroke="#231f20" stroke-width="1.25"/>
<line x1="648.3" y1="554.2" x2="648.3" y2="559.6" stroke="#231f20" stroke-width="1.2"/>
<text x="552.0" y="572.3" font-size="9.8" text-anchor="middle" fill="#1a1a1a" textLength="10.2" lengthAdjust="spacingAndGlyphs" stroke="#1a1a1a" stroke-width="0.15" >-16</text>
<text x="573.3" y="572.3" font-size="9.8" text-anchor="middle" fill="#1a1a1a" textLength="10.2" lengthAdjust="spacingAndGlyphs" stroke="#1a1a1a" stroke-width="0.15" >-12</text>
<text x="594.3" y="572.3" font-size="9.8" text-anchor="middle" fill="#1a1a1a" textLength="6.7" lengthAdjust="spacingAndGlyphs" stroke="#1a1a1a" stroke-width="0.15" >-8</text>
<text x="615.6" y="572.3" font-size="9.8" text-anchor="middle" fill="#1a1a1a" textLength="6.7" lengthAdjust="spacingAndGlyphs" stroke="#1a1a1a" stroke-width="0.15" >-4</text>
<text x="637.4" y="572.3" font-size="9.8" text-anchor="middle" fill="#1a1a1a" textLength="3.9" lengthAdjust="spacingAndGlyphs" stroke="#1a1a1a" stroke-width="0.15" >0</text>
<text x="601.7" y="590.2" font-size="11.2" text-anchor="middle" fill="#1a1a1a" textLength="33.6" lengthAdjust="spacingAndGlyphs" stroke="#1a1a1a" stroke-width="0.15" >‰ PDB</text>
<text x="565.5" y="41" font-size="11.8" fill="#e21e26" stroke="#e21e26" stroke-width="0.08" font-family="Liberation Sans, sans-serif">δ<tspan font-size="6.608000000000001" dy="-4.248">13</tspan><tspan dy="4.248">C</tspan></text>
<text x="620.6" y="41" font-size="11.8" fill="#41a9e0" stroke="#41a9e0" stroke-width="0.08" font-family="Liberation Sans, sans-serif">δ<tspan font-size="6.608000000000001" dy="-4.248">18</tspan><tspan dy="4.248">O</tspan></text>
<path d="M595.6 84.6 L597 140 L597.6 212" stroke="#231f20" stroke-width="0.85" fill="none" stroke-dasharray="3 2"/>
<path d="M617.6 83 L623 151.5 L627.5 207" stroke="#231f20" stroke-width="0.85" fill="none" stroke-dasharray="3 2"/>
<path d="M575.5 146.5 L574.3 238 L573.7 312 L572.3 398 L572 482.7" stroke="#231f20" stroke-width="0.85" fill="none" stroke-dasharray="3 2"/>
<path d="M632.6 144.8 L633.8 238 L633.8 312 L636.4 443" stroke="#231f20" stroke-width="0.85" fill="none" stroke-dasharray="3 2"/>
<path d="M565.7 280.5 L564.3 308 L577.3 317.2 L565.5 328.6 L564.5 336.4 L571.8 337 L575.7 337.4 L564.5 342 L571.8 343.7 L574.3 343.7 L568 346.3 L572.2 348.8 L566 353.2 L571 353.2 L573.7 353.2 L563.5 357.3 L568.6 357.7 L568.4 364 L561.5 367.2 L567 368 L570.4 367.2 L574.3 367.2 L569.4 384.3 L569.4 398.2 L570.4 400.6 L568.4 415.4 L567 443.3 L569.8 443.3 L565.1 450.8 L564.3 456.5" stroke="#231f20" stroke-width="0.7" fill="none"/>
<path d="M634.4 280.7 L626.2 307.8 L640.9 317.1 L637.3 328.6 L637.3 336.4 L624.5 337.8 L637.9 341.8 L630.1 343 L634.4 343.7 L638.3 346.9 L634.4 348.8 L643.3 353.2 L637.3 353.2 L632.4 353.6 L627.5 357.3 L630.5 357.3 L633.4 357.7 L639.3 364 L627.5 367.2 L631.4 369 L634.4 367.2 L637.3 367.2 L637.9 384.3 L646.2 386.3 L629.1 398.6 L635.4 400.6 L635.4 415.4 L637.9 443.3 L640.3 443.3 L632.4 451.8 L636.8 457.3" stroke="#231f20" stroke-width="0.7" fill="none"/>
<path d="M592.6 37 L593.2 67.9 L593 73.9 L595.6 84.6" stroke="#231f20" stroke-width="0.75" fill="none"/>
<path d="M599.1 215.2 L595.2 219.6 L597.4 223.1 L596 241.9 L594.8 262 L587.1 278.4 L591.3 293.5 L587.5 312.1 L587.1 331.5 L587.1 389.5 L589.5 391.3 L589.5 407.1 L588.7 422.5 L591.1 438 L584.2 466.8 L584.2 476.7 L589.7 475.2 L587.9 479.3 L587.5 489.9 L587.5 496.8 L586.1 518.3" stroke="#231f20" stroke-width="0.75" fill="none"/>
<path d="M571.2 62.3 L579.6 74.2 L585.5 77.6 L576.9 123.2 L572.7 133.4 L575.5 146.5" stroke="#231f20" stroke-width="0.75" fill="none"/>
<path d="M572 486.6 L568.4 511.2 L564.3 524 L575.3 549.8" stroke="#231f20" stroke-width="0.75" fill="none"/>
<path d="M615.3 37 L610.8 70.4 L613.5 82.1 L617.6 83" stroke="#231f20" stroke-width="0.75" fill="none"/>
<path d="M627.7 209.5 L629.7 217.4 L627.7 221 L633.6 248.4 L631.6 260.8 L634.4 265.8 L638.7 265.8 L626.3 275.2 L626.5 290.8 L620.8 310.3 L619.6 329.2 L619.6 385.2 L622.6 400.8 L620.6 419.5 L622.6 435.7 L624.9 461.8 L621.2 472.4 L621.2 477.7 L622.2 486.2 L622.2 493.9 L617.6 514.2" stroke="#231f20" stroke-width="0.75" fill="none"/>
<path d="M638.3 60.5 L623 72.2 L625.1 76.3 L620.6 97.1 L625.5 121.6 L631 132.2 L627.5 144.8" stroke="#231f20" stroke-width="0.75" fill="none"/>
<path d="M636.8 457.3 L636 460.6 L633.8 480.7 L635 502.7 L636.4 516.1 L634.5 541.2 L637 547.6" stroke="#231f20" stroke-width="0.75" fill="none"/>
<path d="M626.5 290.8 L620.8 310.3" stroke="#231f20" stroke-width="0.75" fill="none"/>
<path d="M631 290 L625.9 310.3" stroke="#231f20" stroke-width="0.75" fill="none"/>
<path d="M617.6 514.2 L624.5 514.2" stroke="#231f20" stroke-width="0.75" fill="none"/>
<path d="M582.6 518.3 L586.1 518.3" stroke="#231f20" stroke-width="0.75" fill="none"/>
<path d="M617.6 472.2 L621.2 472.4" stroke="#231f20" stroke-width="0.75" fill="none"/>
<g fill="#e21e26"><circle cx="565.7" cy="280.5" r="1.75"/><circle cx="564.3" cy="308" r="1.75"/><circle cx="577.3" cy="317.2" r="1.75"/><circle cx="565.5" cy="328.6" r="1.75"/><circle cx="564.5" cy="336.4" r="1.75"/><circle cx="571.8" cy="337" r="1.75"/><circle cx="575.7" cy="337.4" r="1.75"/><circle cx="564.5" cy="342" r="1.75"/><circle cx="571.8" cy="343.7" r="1.75"/><circle cx="574.3" cy="343.7" r="1.75"/><circle cx="568" cy="346.3" r="1.75"/><circle cx="572.2" cy="348.8" r="1.75"/><circle cx="566" cy="353.2" r="1.75"/><circle cx="571" cy="353.2" r="1.75"/><circle cx="573.7" cy="353.2" r="1.75"/><circle cx="563.5" cy="357.3" r="1.75"/><circle cx="568.6" cy="357.7" r="1.75"/><circle cx="568.4" cy="364" r="1.75"/><circle cx="561.5" cy="367.2" r="1.75"/><circle cx="567" cy="368" r="1.75"/><circle cx="570.4" cy="367.2" r="1.75"/><circle cx="574.3" cy="367.2" r="1.75"/><circle cx="569.4" cy="384.3" r="1.75"/><circle cx="569.4" cy="398.2" r="1.75"/><circle cx="570.4" cy="400.6" r="1.75"/><circle cx="568.4" cy="415.4" r="1.75"/><circle cx="567" cy="443.3" r="1.75"/><circle cx="569.8" cy="443.3" r="1.75"/><circle cx="565.1" cy="450.8" r="1.75"/><circle cx="564.3" cy="456.5" r="1.75"/></g>
<g fill="#41a9e0"><circle cx="634.4" cy="280.7" r="1.75"/><circle cx="626.2" cy="307.8" r="1.75"/><circle cx="640.9" cy="317.1" r="1.75"/><circle cx="637.3" cy="328.6" r="1.75"/><circle cx="637.3" cy="336.4" r="1.75"/><circle cx="624.5" cy="337.8" r="1.75"/><circle cx="637.9" cy="341.8" r="1.75"/><circle cx="630.1" cy="343" r="1.75"/><circle cx="634.4" cy="343.7" r="1.75"/><circle cx="638.3" cy="346.9" r="1.75"/><circle cx="634.4" cy="348.8" r="1.75"/><circle cx="643.3" cy="353.2" r="1.75"/><circle cx="637.3" cy="353.2" r="1.75"/><circle cx="632.4" cy="353.6" r="1.75"/><circle cx="627.5" cy="357.3" r="1.75"/><circle cx="630.5" cy="357.3" r="1.75"/><circle cx="633.4" cy="357.7" r="1.75"/><circle cx="639.3" cy="364" r="1.75"/><circle cx="627.5" cy="367.2" r="1.75"/><circle cx="631.4" cy="369" r="1.75"/><circle cx="634.4" cy="367.2" r="1.75"/><circle cx="637.3" cy="367.2" r="1.75"/><circle cx="637.9" cy="384.3" r="1.75"/><circle cx="646.2" cy="386.3" r="1.75"/><circle cx="629.1" cy="398.6" r="1.75"/><circle cx="635.4" cy="400.6" r="1.75"/><circle cx="635.4" cy="415.4" r="1.75"/><circle cx="637.9" cy="443.3" r="1.75"/><circle cx="640.3" cy="443.3" r="1.75"/><circle cx="632.4" cy="451.8" r="1.75"/><circle cx="636.8" cy="457.3" r="1.75"/></g>
<g fill="#fff" stroke="#231f20" stroke-width="0.6"><circle cx="564.5" cy="380.3" r="2.5"/><circle cx="564.7" cy="384.7" r="2.5"/><circle cx="566.2" cy="388.8" r="2.5"/><circle cx="571.2" cy="388.4" r="2.5"/><circle cx="571.2" cy="393.1" r="2.5"/></g>
<g fill="#fff" stroke="#231f20" stroke-width="0.6"><circle cx="631.7" cy="380.3" r="2.5"/><circle cx="635.8" cy="384.7" r="2.5"/><circle cx="629.8" cy="388.3" r="2.5"/><circle cx="632.9" cy="388.9" r="2.5"/></g>
<g fill="#e21e26" stroke="#231f20" stroke-width="0.7"><ellipse cx="571.2" cy="62.3" rx="1.85" ry="2.5"/><ellipse cx="579.6" cy="74.2" rx="1.85" ry="2.5"/><ellipse cx="585.5" cy="77.6" rx="1.85" ry="2.5"/><ellipse cx="576.9" cy="123.2" rx="1.85" ry="2.5"/><ellipse cx="572.7" cy="133.4" rx="1.85" ry="2.5"/><ellipse cx="575.5" cy="146.5" rx="1.85" ry="2.5"/><ellipse cx="577.5" cy="146.5" rx="1.85" ry="2.5"/><ellipse cx="572" cy="486.6" rx="1.85" ry="2.5"/><ellipse cx="568.4" cy="511.2" rx="1.85" ry="2.5"/><ellipse cx="564.3" cy="524" rx="1.85" ry="2.5"/><ellipse cx="575.3" cy="549.8" rx="1.85" ry="2.5"/><ellipse cx="577.6" cy="549.8" rx="1.85" ry="2.5"/></g>
<g fill="#3a9ad9" stroke="#231f20" stroke-width="0.7"><ellipse cx="638.3" cy="60.5" rx="1.85" ry="2.5"/><ellipse cx="623" cy="72.2" rx="1.85" ry="2.5"/><ellipse cx="625.1" cy="76.3" rx="1.85" ry="2.5"/><ellipse cx="620.6" cy="97.1" rx="1.85" ry="2.5"/><ellipse cx="625.5" cy="121.6" rx="1.85" ry="2.5"/><ellipse cx="631" cy="132.2" rx="1.85" ry="2.5"/><ellipse cx="627.5" cy="144.8" rx="1.85" ry="2.5"/><ellipse cx="632.6" cy="144.8" rx="1.85" ry="2.5"/><ellipse cx="633.8" cy="480.7" rx="1.85" ry="2.5"/><ellipse cx="635" cy="502.7" rx="1.85" ry="2.5"/><ellipse cx="636.4" cy="516.1" rx="1.85" ry="2.5"/><ellipse cx="634.5" cy="541.2" rx="1.85" ry="2.5"/><ellipse cx="637" cy="547.6" rx="1.85" ry="2.5"/><ellipse cx="632.4" cy="541.2" rx="1.85" ry="2.5"/><ellipse cx="640.9" cy="547.6" rx="1.85" ry="2.5"/></g>
<g fill="#3a9ad9" stroke="#231f20" stroke-width="0.7"><ellipse cx="636.8" cy="457.3" rx="1.4" ry="2.0"/><ellipse cx="636" cy="460.6" rx="1.4" ry="2.0"/></g>
<g fill="#e21e26" stroke="#231f20" stroke-width="0.7"><rect x="590.8" y="35.1" width="3.7" height="3.7"/><rect x="591.4" y="66.1" width="3.7" height="3.7"/><rect x="591.1" y="72.1" width="3.7" height="3.7"/><rect x="593.8" y="82.8" width="3.7" height="3.7"/><rect x="597.2" y="213.3" width="3.7" height="3.7"/><rect x="593.4" y="217.8" width="3.7" height="3.7"/><rect x="595.5" y="221.2" width="3.7" height="3.7"/><rect x="594.1" y="240.1" width="3.7" height="3.7"/><rect x="592.9" y="260.1" width="3.7" height="3.7"/><rect x="585.2" y="276.5" width="3.7" height="3.7"/><rect x="589.4" y="291.6" width="3.7" height="3.7"/><rect x="585.6" y="310.2" width="3.7" height="3.7"/><rect x="585.2" y="329.6" width="3.7" height="3.7"/><rect x="585.2" y="387.6" width="3.7" height="3.7"/><rect x="587.6" y="389.4" width="3.7" height="3.7"/><rect x="587.6" y="405.2" width="3.7" height="3.7"/><rect x="586.9" y="420.6" width="3.7" height="3.7"/><rect x="589.2" y="436.1" width="3.7" height="3.7"/><rect x="582.4" y="464.9" width="3.7" height="3.7"/><rect x="582.4" y="474.8" width="3.7" height="3.7"/><rect x="587.9" y="473.3" width="3.7" height="3.7"/><rect x="586.0" y="477.4" width="3.7" height="3.7"/><rect x="585.6" y="488.0" width="3.7" height="3.7"/><rect x="585.6" y="494.9" width="3.7" height="3.7"/><rect x="584.2" y="516.4" width="3.7" height="3.7"/><rect x="581.8" y="310.2" width="3.7" height="3.7"/><rect x="580.8" y="516.4" width="3.7" height="3.7"/></g>
<g fill="#3a9ad9" stroke="#231f20" stroke-width="0.7"><rect x="613.4" y="35.1" width="3.7" height="3.7"/><rect x="608.9" y="68.6" width="3.7" height="3.7"/><rect x="611.6" y="80.2" width="3.7" height="3.7"/><rect x="615.8" y="81.2" width="3.7" height="3.7"/><rect x="625.9" y="207.7" width="3.7" height="3.7"/><rect x="627.9" y="215.6" width="3.7" height="3.7"/><rect x="625.9" y="219.2" width="3.7" height="3.7"/><rect x="631.8" y="246.6" width="3.7" height="3.7"/><rect x="629.8" y="258.9" width="3.7" height="3.7"/><rect x="632.5" y="263.9" width="3.7" height="3.7"/><rect x="636.9" y="263.9" width="3.7" height="3.7"/><rect x="624.4" y="273.3" width="3.7" height="3.7"/><rect x="624.6" y="288.9" width="3.7" height="3.7"/><rect x="618.9" y="308.4" width="3.7" height="3.7"/><rect x="617.8" y="327.3" width="3.7" height="3.7"/><rect x="617.8" y="383.3" width="3.7" height="3.7"/><rect x="620.8" y="398.9" width="3.7" height="3.7"/><rect x="618.8" y="417.6" width="3.7" height="3.7"/><rect x="620.8" y="433.8" width="3.7" height="3.7"/><rect x="623.0" y="459.9" width="3.7" height="3.7"/><rect x="619.4" y="470.5" width="3.7" height="3.7"/><rect x="619.4" y="475.8" width="3.7" height="3.7"/><rect x="620.4" y="484.3" width="3.7" height="3.7"/><rect x="620.4" y="492.0" width="3.7" height="3.7"/><rect x="615.8" y="512.4" width="3.7" height="3.7"/><rect x="629.1" y="288.1" width="3.7" height="3.7"/><rect x="624.0" y="308.4" width="3.7" height="3.7"/><rect x="621.4" y="327.3" width="3.7" height="3.7"/><rect x="615.8" y="470.1" width="3.7" height="3.7"/><rect x="622.6" y="512.4" width="3.7" height="3.7"/></g></svg>
</body></html>
